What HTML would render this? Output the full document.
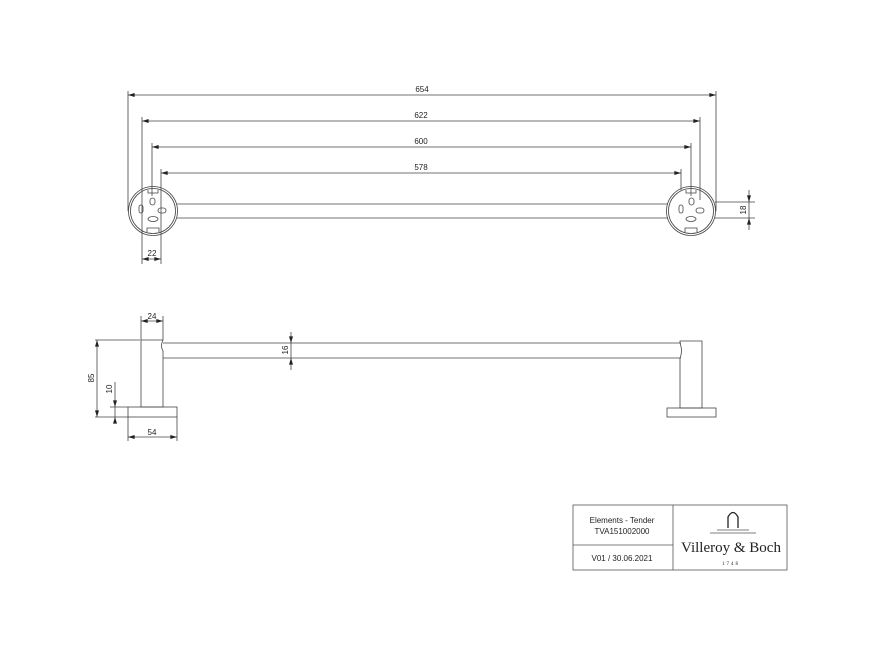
<!DOCTYPE html>
<html><head><meta charset="utf-8"><style>
html,body{margin:0;padding:0;background:#fff}
svg{display:block}
text{font-family:"Liberation Sans",sans-serif;font-size:8px;fill:#222}
</style></head><body>
<svg width="876" height="657" viewBox="0 0 876 657" xmlns="http://www.w3.org/2000/svg">
<defs>
<marker id="a" viewBox="0 0 10 6" refX="10" refY="3" markerWidth="7" markerHeight="4" orient="auto-start-reverse" markerUnits="userSpaceOnUse"><path d="M0,0L10,3L0,6z" fill="#222"/></marker>
</defs>
<g stroke="#444" stroke-width="0.8" fill="none">
<line x1="128" y1="91" x2="128" y2="211"/>
<line x1="716" y1="91" x2="716" y2="211"/>
<line x1="142" y1="117" x2="142" y2="264"/>
<line x1="700" y1="117" x2="700" y2="200"/>
<line x1="152" y1="143" x2="152" y2="196"/>
<line x1="691" y1="143" x2="691" y2="196"/>
<line x1="161" y1="169" x2="161" y2="264"/>
<line x1="681" y1="169" x2="681" y2="190"/>
<line x1="128" y1="95" x2="716" y2="95" marker-start="url(#a)" marker-end="url(#a)"/>
<line x1="142" y1="121" x2="700" y2="121" marker-start="url(#a)" marker-end="url(#a)"/>
<line x1="152" y1="147" x2="691" y2="147" marker-start="url(#a)" marker-end="url(#a)"/>
<line x1="161" y1="173" x2="681" y2="173" marker-start="url(#a)" marker-end="url(#a)"/>
<line x1="142" y1="259" x2="161" y2="259" marker-start="url(#a)" marker-end="url(#a)"/>
<line x1="177" y1="204" x2="668" y2="204"/>
<line x1="177" y1="218" x2="668" y2="218"/>
<circle cx="153" cy="211" r="24.5"/><circle cx="153" cy="211" r="22.5"/>
<path d="M148,190 v3 h10 v-3"/><path d="M147,232 v-4 h12 v4"/>
<rect x="139" y="205" width="4" height="8" rx="2"/>
<rect x="150" y="198" width="5" height="7" rx="2.5"/>
<rect x="158" y="208" width="8" height="5" rx="2.5"/>
<ellipse cx="153" cy="219" rx="5" ry="2.5"/>
<circle cx="691" cy="211" r="24.5"/><circle cx="691" cy="211" r="22.5"/>
<path d="M686,190 v3 h10 v-3"/><path d="M685,232 v-4 h12 v4"/>
<rect x="679" y="205" width="4" height="8" rx="2"/>
<rect x="689" y="198" width="5" height="7" rx="2.5"/>
<rect x="696" y="208" width="8" height="5" rx="2.5"/>
<ellipse cx="691" cy="219" rx="5" ry="2.5"/>
<line x1="715" y1="202" x2="755" y2="202"/>
<line x1="715" y1="218" x2="755" y2="218"/>
<line x1="749" y1="190" x2="749" y2="202" marker-end="url(#a)"/>
<line x1="749" y1="230" x2="749" y2="218" marker-end="url(#a)"/>
<line x1="749" y1="202" x2="749" y2="218"/>
<path d="M141,340 H163 Q160,346 163,351 V407 H141 Z"/>
<rect x="128" y="407" width="49" height="10"/>
<line x1="163" y1="343" x2="681" y2="343"/>
<line x1="163" y1="358" x2="681" y2="358"/>
<path d="M680,341 H702 V408 H680 V358 Q683,351 680,343 Z"/>
<rect x="667" y="408" width="49" height="9"/>
<line x1="141" y1="316" x2="141" y2="340"/><line x1="163" y1="316" x2="163" y2="340"/>
<line x1="141" y1="321" x2="163" y2="321" marker-start="url(#a)" marker-end="url(#a)"/>
<line x1="95" y1="340" x2="140" y2="340"/><line x1="95" y1="417" x2="128" y2="417"/>
<line x1="97" y1="340" x2="97" y2="417" marker-start="url(#a)" marker-end="url(#a)"/>
<line x1="110" y1="407" x2="128" y2="407"/>
<line x1="115" y1="382" x2="115" y2="407" marker-end="url(#a)"/>
<line x1="115" y1="421" x2="115" y2="417" marker-end="url(#a)"/>
<line x1="115" y1="407" x2="115" y2="417"/>
<line x1="128" y1="417" x2="128" y2="441"/><line x1="177" y1="417" x2="177" y2="441"/>
<line x1="128" y1="437" x2="177" y2="437" marker-start="url(#a)" marker-end="url(#a)"/>
<line x1="291" y1="332" x2="291" y2="343" marker-end="url(#a)"/>
<line x1="291" y1="370" x2="291" y2="358" marker-end="url(#a)"/>
<line x1="291" y1="343" x2="291" y2="358"/>
<rect x="573" y="505" width="214" height="65" stroke="#555"/>
<line x1="673" y1="505" x2="673" y2="570" stroke="#555"/>
<line x1="573" y1="545" x2="673" y2="545" stroke="#555"/>
<path d="M728,528 V517 Q733,508 738,517 V528" stroke="#222" stroke-width="1.3"/>
<line x1="717" y1="530" x2="749" y2="530" stroke="#555"/>
<line x1="710" y1="533" x2="756" y2="533" stroke="#555"/>
</g>
<text x="422" y="92" text-anchor="middle">654</text>
<text x="421" y="118" text-anchor="middle">622</text>
<text x="421" y="144" text-anchor="middle">600</text>
<text x="421" y="170" text-anchor="middle">578</text>
<text x="152" y="256" text-anchor="middle">22</text>
<text transform="translate(746,210) rotate(-90)" text-anchor="middle">18</text>
<text x="152" y="319" text-anchor="middle">24</text>
<text transform="translate(94,378) rotate(-90)" text-anchor="middle">85</text>
<text transform="translate(112,389) rotate(-90)" text-anchor="middle">10</text>
<text x="152" y="435" text-anchor="middle">54</text>
<text transform="translate(288,350) rotate(-90)" text-anchor="middle">16</text>
<text x="622" y="523" text-anchor="middle">Elements - Tender</text>
<text x="622" y="534" text-anchor="middle">TVA151002000</text>
<text x="622" y="561" text-anchor="middle">V01 / 30.06.2021</text>
<text x="731" y="552" text-anchor="middle" style="font-family:'Liberation Serif',serif;font-size:15px">Villeroy &amp; Boch</text>
<text x="731" y="565" text-anchor="middle" style="font-family:'Liberation Serif',serif;font-size:5px;letter-spacing:2px">1748</text>
</svg>
</body></html>
